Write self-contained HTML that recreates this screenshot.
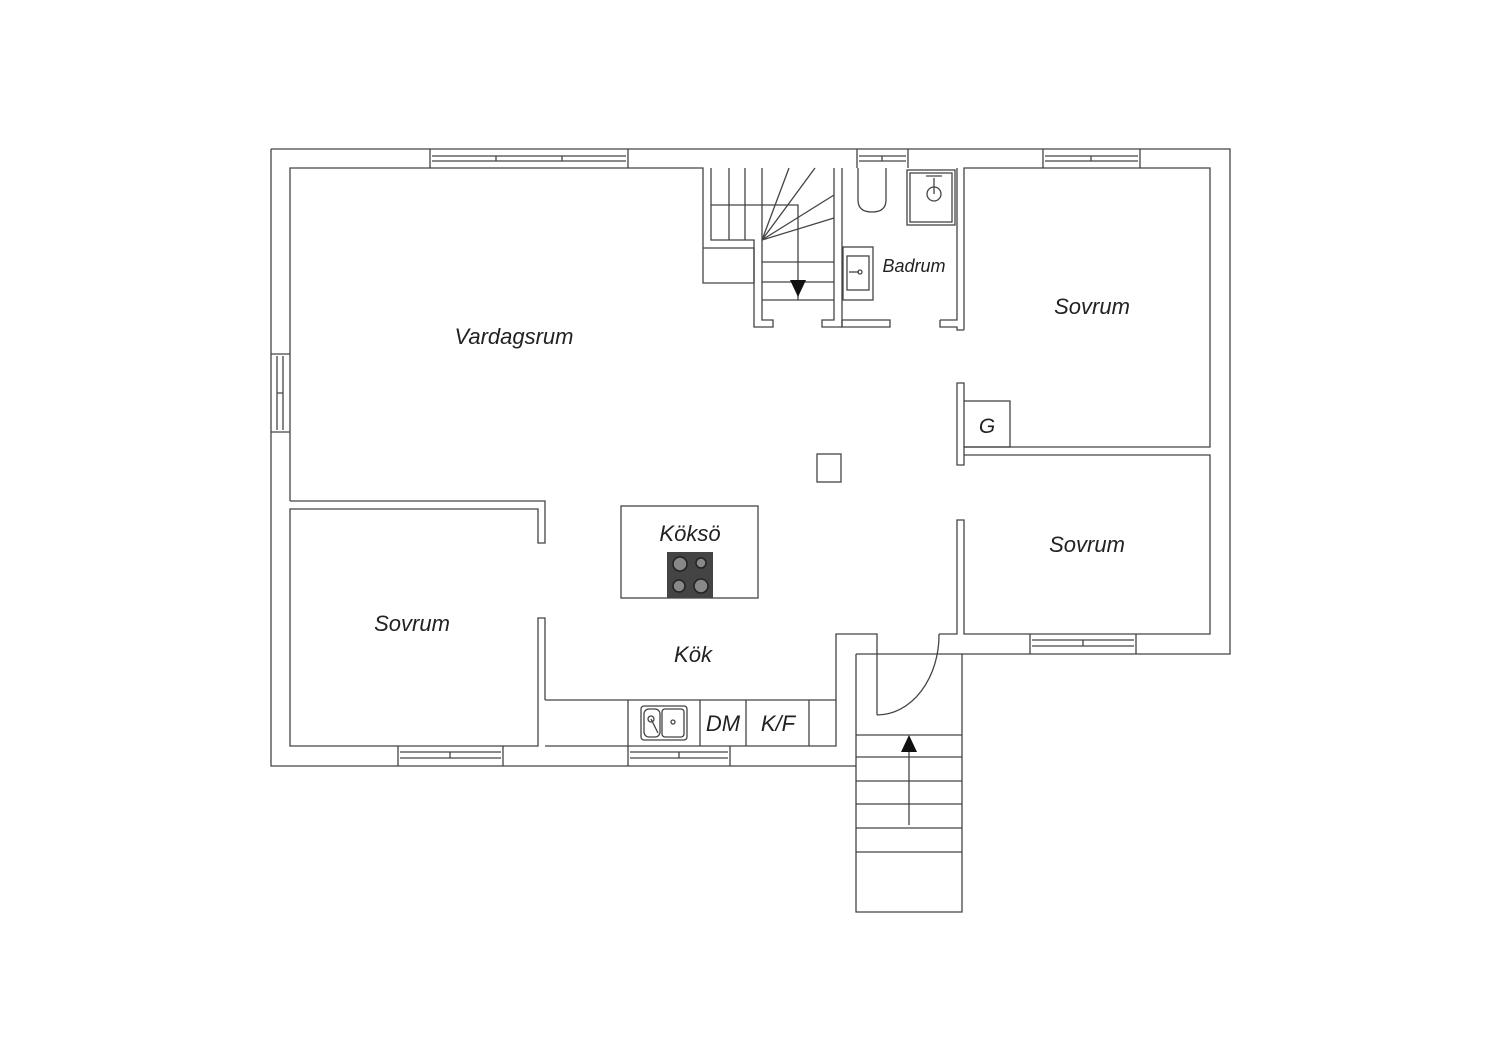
<!DOCTYPE html>
<html><head><meta charset="utf-8"><style>
html,body{margin:0;padding:0;background:#fff;}
svg{display:block;}
text{font-family:"Liberation Sans",sans-serif;font-style:italic;fill:#222;}
</style></head><body>
<svg width="1500" height="1060" viewBox="0 0 1500 1060" xmlns="http://www.w3.org/2000/svg">
<g fill="none" stroke="#444" stroke-width="1.3">
<!-- outer -->
<path d="M271,149 H1230 V654 H962 M856,766 H271 V149"/>
<!-- vardagsrum inner -->
<path d="M290,501 V168 H703 V248"/>
<path d="M290,501 H545 V543 H538 V509 H290 V746 H538 V618 H545 V700"/>
<path d="M545,746 H836 V634 H877 V715"/>
<!-- kitchen counter -->
<path d="M545,700 H836 M628,700 V746 M700,700 V746 M746,700 V746 M809,700 V746"/>
<rect x="641" y="706" width="46" height="34" rx="3"/>
<rect x="644" y="709" width="16" height="28" rx="5"/>
<rect x="662" y="709" width="22" height="28" rx="3"/>
<circle cx="651" cy="719" r="3"/><circle cx="673" cy="722" r="2"/>
<path d="M651,719 L658,733"/>
<!-- windows -->
<path d="M430,149 V168 M628,149 V168 M432,156 H626 M432,161 H626 M496,156 V161 M562,156 V161"/>
<path d="M857,149 V168 M908,149 V168 M859,156 H906 M859,161 H906 M882,156 V161"/>
<path d="M1043,149 V168 M1140,149 V168 M1045,156 H1138 M1045,161 H1138 M1091,156 V161"/>
<path d="M271,354 H290 M271,432 H290 M277,356 V430 M283,356 V430 M277,393 H283"/>
<path d="M398,746 V766 M503,746 V766 M400,752 H501 M400,758 H501 M450,752 V758"/>
<path d="M628,746 V766 M730,746 V766 M630,752 H728 M630,758 H728 M679,752 V758"/>
<path d="M1030,634 V654 M1136,634 V654 M1032,640 H1134 M1032,646 H1134 M1083,640 V646"/>
<!-- right rooms -->
<path d="M964,330 V168 H1210 V447 H964 V465 H957 V383 H964 V401"/>
<path d="M964,455 H1210 V634 H964 V520 H957 V634 H939"/>
<rect x="964" y="401" width="46" height="46"/>
<!-- column -->
<rect x="817" y="454" width="24" height="28"/>
<!-- island -->
<rect x="621" y="506" width="137" height="92"/>
<!-- staircase upper -->
<path d="M703,248 H754 V283 H703 V248"/>
<path d="M711,168 V240 H754 V327 H773 V320 H762 V240"/>
<path d="M711,205 H798 V300 M729,168 V240 M745,168 V240 M762,168 V240"/>
<path d="M762,262 H834 M762,282 H834 M762,300 H834"/>
<path d="M762,240 L789,168 M762,240 L815,168 M762,240 L834,195 M762,240 L834,218"/>
<path d="M834,168 V320 H822 V327 H842 V168"/>
<!-- bathroom -->
<path d="M842,320 V327 H890 V320 H842"/>
<path d="M940,320 V327 H957 V330 H964 M940,320 H957 V168"/>
<path d="M858,168 V200 Q858,212 872,212 Q886,212 886,200 V168"/>
<rect x="907" y="170" width="48" height="55"/>
<rect x="910" y="173" width="42" height="49"/>
<circle cx="934" cy="194" r="7"/>
<path d="M934,178 V194 M926,176 H942"/>
<rect x="843" y="247" width="30" height="53"/>
<rect x="847" y="256" width="22" height="34"/>
<path d="M849,272 H859"/><circle cx="860" cy="272" r="2"/>
<!-- entrance -->
<path d="M856,654 V912 H962 V654 H856"/>
<path d="M856,735 H962 M856,757 H962 M856,781 H962 M856,804 H962 M856,828 H962 M856,852 H962 M909,752 V825"/>
<path d="M877,715 A62,80 0 0 0 939,634"/>
</g>
<rect x="667" y="552" width="46" height="46" fill="#444"/>
<g fill="#888" stroke="#222" stroke-width="1.5">
<circle cx="680" cy="564" r="7"/><circle cx="701" cy="563" r="5"/>
<circle cx="679" cy="586" r="6"/><circle cx="701" cy="586" r="7"/>
</g>
<path d="M790,280 H806 L798,297 Z" fill="#111"/>
<path d="M901,752 H917 L909,735 Z" fill="#111"/>
<text x="1092" y="314" font-size="22" text-anchor="middle">Sovrum</text>
<text x="514" y="344" font-size="22" text-anchor="middle">Vardagsrum</text>
<text x="914" y="272" font-size="18" text-anchor="middle">Badrum</text>
<text x="987" y="433" font-size="21" text-anchor="middle">G</text>
<text x="1087" y="552" font-size="22" text-anchor="middle">Sovrum</text>
<text x="690" y="541" font-size="22" text-anchor="middle">Köksö</text>
<text x="412" y="631" font-size="22" text-anchor="middle">Sovrum</text>
<text x="693" y="662" font-size="22" text-anchor="middle">Kök</text>
<text x="723" y="731" font-size="22" text-anchor="middle">DM</text>
<text x="778" y="731" font-size="22" text-anchor="middle">K/F</text>
</svg>
</body></html>
